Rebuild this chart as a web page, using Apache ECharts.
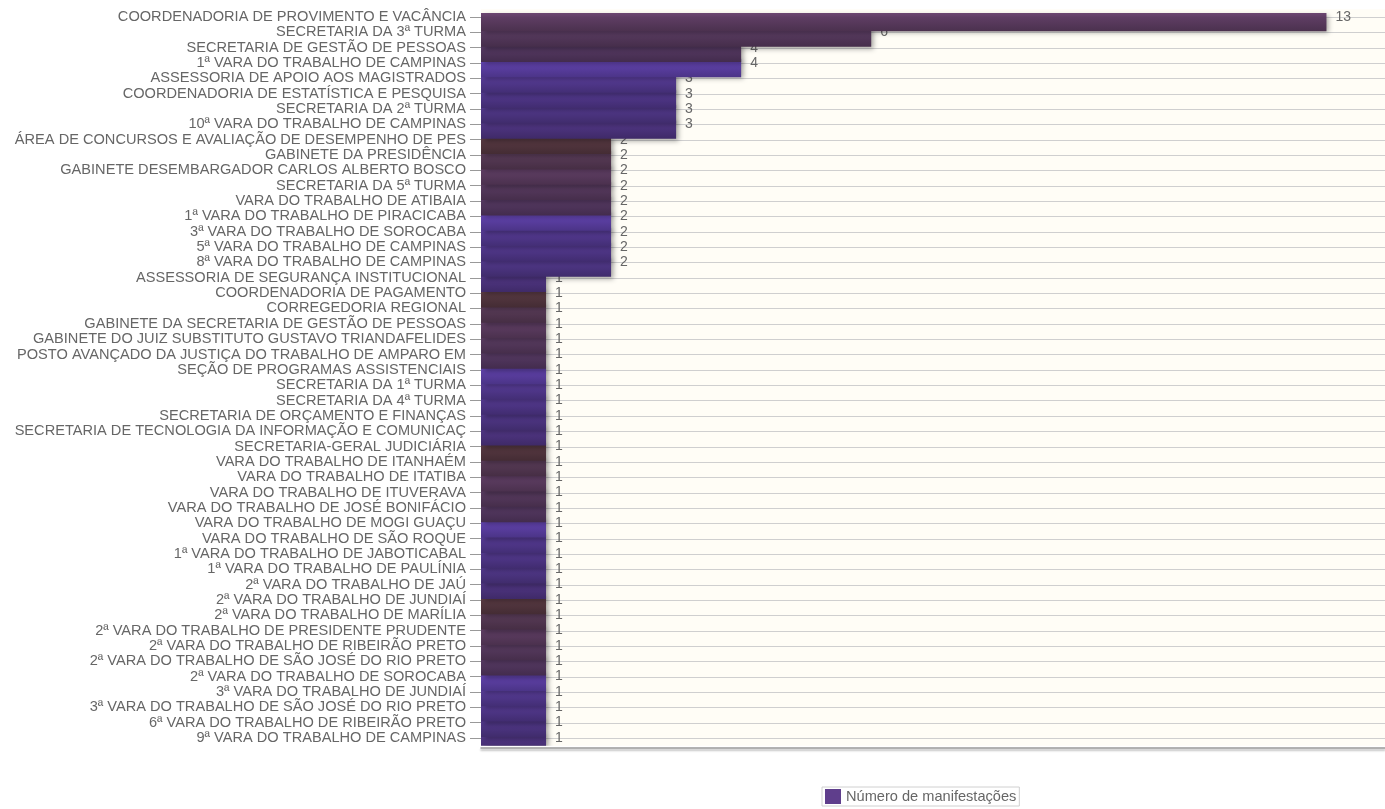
<!DOCTYPE html>
<html><head><meta charset="utf-8">
<script src="https://cdn.jsdelivr.net/npm/echarts@6/dist/echarts.min.js"></script>
<style>html,body{margin:0;padding:0;background:#fff}#chart{width:1385px;height:809px}</style>
</head><body><div id="chart"></div>
<script>
const categories = [
  'COORDENADORIA DE PROVIMENTO E VACÂNCIA',
  'SECRETARIA DA 3ª TURMA',
  'SECRETARIA DE GESTÃO DE PESSOAS',
  '1ª VARA DO TRABALHO DE CAMPINAS',
  'ASSESSORIA DE APOIO AOS MAGISTRADOS',
  'COORDENADORIA DE ESTATÍSTICA E PESQUISA',
  'SECRETARIA DA 2ª TURMA',
  '10ª VARA DO TRABALHO DE CAMPINAS',
  'ÁREA DE CONCURSOS E AVALIAÇÃO DE DESEMPENHO DE PES',
  'GABINETE DA PRESIDÊNCIA',
  'GABINETE DESEMBARGADOR CARLOS ALBERTO BOSCO',
  'SECRETARIA DA 5ª TURMA',
  'VARA DO TRABALHO DE ATIBAIA',
  '1ª VARA DO TRABALHO DE PIRACICABA',
  '3ª VARA DO TRABALHO DE SOROCABA',
  '5ª VARA DO TRABALHO DE CAMPINAS',
  '8ª VARA DO TRABALHO DE CAMPINAS',
  'ASSESSORIA DE SEGURANÇA INSTITUCIONAL',
  'COORDENADORIA DE PAGAMENTO',
  'CORREGEDORIA REGIONAL',
  'GABINETE DA SECRETARIA DE GESTÃO DE PESSOAS',
  'GABINETE DO JUIZ SUBSTITUTO GUSTAVO TRIANDAFELIDES',
  'POSTO AVANÇADO DA JUSTIÇA DO TRABALHO DE AMPARO EM',
  'SEÇÃO DE PROGRAMAS ASSISTENCIAIS',
  'SECRETARIA DA 1ª TURMA',
  'SECRETARIA DA 4ª TURMA',
  'SECRETARIA DE ORÇAMENTO E FINANÇAS',
  'SECRETARIA DE TECNOLOGIA DA INFORMAÇÃO E COMUNICAÇ',
  'SECRETARIA-GERAL JUDICIÁRIA',
  'VARA DO TRABALHO DE ITANHAÉM',
  'VARA DO TRABALHO DE ITATIBA',
  'VARA DO TRABALHO DE ITUVERAVA',
  'VARA DO TRABALHO DE JOSÉ BONIFÁCIO',
  'VARA DO TRABALHO DE MOGI GUAÇU',
  'VARA DO TRABALHO DE SÃO ROQUE',
  '1ª VARA DO TRABALHO DE JABOTICABAL',
  '1ª VARA DO TRABALHO DE PAULÍNIA',
  '2ª VARA DO TRABALHO DE JAÚ',
  '2ª VARA DO TRABALHO DE JUNDIAÍ',
  '2ª VARA DO TRABALHO DE MARÍLIA',
  '2ª VARA DO TRABALHO DE PRESIDENTE PRUDENTE',
  '2ª VARA DO TRABALHO DE RIBEIRÃO PRETO',
  '2ª VARA DO TRABALHO DE SÃO JOSÉ DO RIO PRETO',
  '2ª VARA DO TRABALHO DE SOROCABA',
  '3ª VARA DO TRABALHO DE JUNDIAÍ',
  '3ª VARA DO TRABALHO DE SÃO JOSÉ DO RIO PRETO',
  '6ª VARA DO TRABALHO DE RIBEIRÃO PRETO',
  '9ª VARA DO TRABALHO DE CAMPINAS'
];
const values = [
  13, 6, 4, 4, 3, 3, 3, 3,
  2, 2, 2, 2, 2, 2, 2, 2, 2,
  1, 1, 1, 1, 1, 1, 1, 1, 1, 1,
  1, 1, 1, 1, 1, 1, 1, 1, 1, 1,
  1, 1, 1, 1, 1, 1, 1, 1, 1, 1, 1
];
const seriesName = 'Número de manifestações';
const xMax = 13.9;

// bar colour cycle (by category index mod 10)
const palette = ['#65426a','#5e3e66','#5a3c68','#6646b6','#5b3e9e','#583c98','#563b92','#55398c','#5c3c46','#5e3e5c'];
const FONT = '"Liberation Sans", Arial, sans-serif';

function shade(hex, f) {
  const n = parseInt(hex.slice(1), 16);
  const r = Math.round(((n >> 16) & 255) * f), g = Math.round(((n >> 8) & 255) * f), b = Math.round((n & 255) * f);
  return 'rgb(' + Math.min(255, r) + ',' + Math.min(255, g) + ',' + Math.min(255, b) + ')';
}

const rows = categories.map((c, i) => [values[i], i]).reverse();

const chart = echarts.init(document.getElementById('chart'));
chart.setOption({
  animation: false,
  grid: { left: 481, top: 9.33, width: 904, height: 736.3, show: true, backgroundColor: '#fffdf6', borderWidth: 0 },
  xAxis: {
    type: 'value', min: 0, max: xMax, offset: 2,
    axisLabel: { show: false }, splitLine: { show: false }, axisTick: { show: false },
    axisLine: { show: true, onZero: false, lineStyle: { color: '#999', width: 1.5, shadowColor: 'rgba(0,0,0,0.3)', shadowOffsetY: 2, shadowBlur: 2 } }
  },
  yAxis: {
    type: 'category', data: categories, inverse: true,
    axisLine: { show: false },
    axisTick: { show: true, alignWithLabel: true, length: 11, lineStyle: { color: '#999' } },
    axisLabel: { margin: 15, color: '#666', fontSize: 14.6, fontFamily: FONT, interval: 0 },
    splitLine: { show: false }
  },
  legend: {
    data: [seriesName], left: 822, top: 787, icon: 'rect', itemWidth: 16, itemHeight: 15,
    padding: [2, 3, 2, 3], borderColor: '#d0d0d0', borderWidth: 1,
    textStyle: { color: '#666', fontSize: 14.6, fontFamily: FONT }
  },
  series: [{
    type: 'custom', name: seriesName, data: rows, encode: { x: 0, y: 1 }, clip: true,
    itemStyle: { color: '#5f3e8c' },
    renderItem: function (params, api) {
      const v = api.value(0), i = api.value(1);
      const cs = params.coordSys;
      const p = api.coord([v, i]);
      const p0 = api.coord([0, i]);
      const band = api.size([0, 1])[1];
      const base = palette[i % palette.length];
      const ly = Math.round(p[1]) + 0.5;
      return {
        type: 'group',
        children: [
          { type: 'line', shape: { x1: cs.x, y1: ly, x2: cs.x + cs.width, y2: ly }, style: { stroke: '#cfcfcf', lineWidth: 1 } },
          { type: 'rect', shape: { x: p0[0], y: p[1] - 4, width: p[0] - p0[0], height: band + 3 },
            style: {
              fill: new echarts.graphic.LinearGradient(0, 0, 0, 1, [
                { offset: 0, color: shade(base, 1.08) },
                { offset: 0.25, color: shade(base, 0.93) },
                { offset: 1, color: shade(base, 0.74) }
              ]),
              shadowBlur: 5, shadowOffsetX: 3, shadowOffsetY: 2, shadowColor: 'rgba(0,0,0,0.35)'
            } },
          { type: 'text', style: { text: String(v), x: p[0] + 9, y: p[1], align: 'left', verticalAlign: 'middle', fill: '#666', font: '14px ' + FONT } }
        ]
      };
    }
  }]
});
</script>
</body></html>
